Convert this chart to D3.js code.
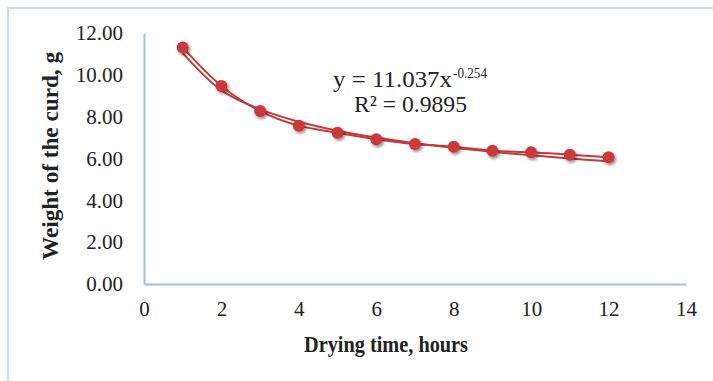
<!DOCTYPE html>
<html><head><meta charset="utf-8">
<script src="https://cdn.jsdelivr.net/npm/d3@7"></script>
<style>
html,body{margin:0;padding:0;background:#fff;}
svg text{font-family:"Liberation Serif","Times New Roman",serif;fill:#222;}
</style></head>
<body><svg id="c" width="713" height="381"></svg>
<script>
const hours = [1,2,3,4,5,6,7,8,9,10,11,12];
const weight = [11.31,9.47,8.27,7.57,7.23,6.92,6.69,6.56,6.37,6.30,6.18,6.06];
const trendWeight = [11.04,9.26,8.35,7.76,7.33,7.00,6.73,6.51,6.32,6.15,6.00,5.87];
const xTicks = [0,2,4,6,8,10,12,14];
const yTicks = [0,2,4,6,8,10,12];
const xTitle = "Drying time, hours";
const yTitle = "Weight of the curd, g";
const eqMain = "y = 11.037x";
const eqExp = "-0.254";
const r2Label = "R² = 0.9895";

const svg = d3.select("#c");
const defs = svg.append("defs");
const f = defs.append("filter").attr("id","sh").attr("x","-50%").attr("y","-50%").attr("width","200%").attr("height","200%");
f.append("feDropShadow").attr("dx",1.5).attr("dy",2).attr("stdDeviation",1.6).attr("flood-color","#000").attr("flood-opacity",0.45);

// outer frame
svg.append("path").attr("d","M8,381 L8,8 L713,8").attr("fill","none").attr("stroke","#c5d9f0").attr("stroke-width",2);

const x = d3.scaleLinear().domain([0,14]).range([144,686]);
const y = d3.scaleLinear().domain([0,12]).range([284,33]);

const axisColor = "#9dbfe8";
const gx = svg.append("g").attr("transform","translate(0,284)")
  .call(d3.axisBottom(x).tickValues(xTicks).tickSize(0).tickPadding(17).tickFormat(d3.format("d")));
gx.attr("font-family",null);
gx.select(".domain").attr("stroke",axisColor).attr("stroke-width",2);
gx.selectAll("text").attr("font-size",21).attr("fill","#222");

const gy = svg.append("g").attr("transform","translate(144,0)")
  .call(d3.axisLeft(y).tickValues(yTicks).tickSize(0).tickPadding(21).tickFormat(d3.format(".2f")));
gy.attr("font-family",null);
gy.select(".domain").attr("stroke",axisColor).attr("stroke-width",2);
gy.selectAll("text").attr("font-size",21).attr("fill","#222");

const pts = hours.map((h,i)=>[h,weight[i]]);
const tpts = hours.map((h,i)=>[h,trendWeight[i]]);
const line = d3.line().x(d=>x(d[0])).y(d=>y(d[1])).curve(d3.curveCatmullRom.alpha(0.5));

svg.append("path").attr("d",line(tpts)).attr("fill","none").attr("stroke","#c4393c").attr("stroke-width",2);
svg.append("path").attr("d",line(pts)).attr("fill","none").attr("stroke","#c4393c").attr("stroke-width",2);

svg.append("g").selectAll("circle").data(pts).join("circle")
  .attr("cx",d=>x(d[0])).attr("cy",d=>y(d[1])).attr("r",6)
  .attr("fill","#cc383b").attr("filter","url(#sh)");

// equation
svg.append("text").attr("x",333).attr("y",87).attr("font-size",23)
  .attr("textLength",119).attr("lengthAdjust","spacingAndGlyphs").text(eqMain);
svg.append("text").attr("x",453).attr("y",78).attr("font-size",15)
  .attr("textLength",34).attr("lengthAdjust","spacingAndGlyphs").text(eqExp);
svg.append("text").attr("x",354).attr("y",112).attr("font-size",23)
  .attr("textLength",113).attr("lengthAdjust","spacingAndGlyphs").text(r2Label);

svg.append("text").attr("x",386).attr("y",352).attr("text-anchor","middle")
  .attr("font-size",24).attr("font-weight","bold")
  .attr("textLength",164).attr("lengthAdjust","spacingAndGlyphs").text(xTitle);
svg.append("text").attr("transform","translate(58,156) rotate(-90)").attr("text-anchor","middle")
  .attr("font-size",24).attr("font-weight","bold")
  .attr("textLength",208).attr("lengthAdjust","spacingAndGlyphs").text(yTitle);
</script></body></html>
